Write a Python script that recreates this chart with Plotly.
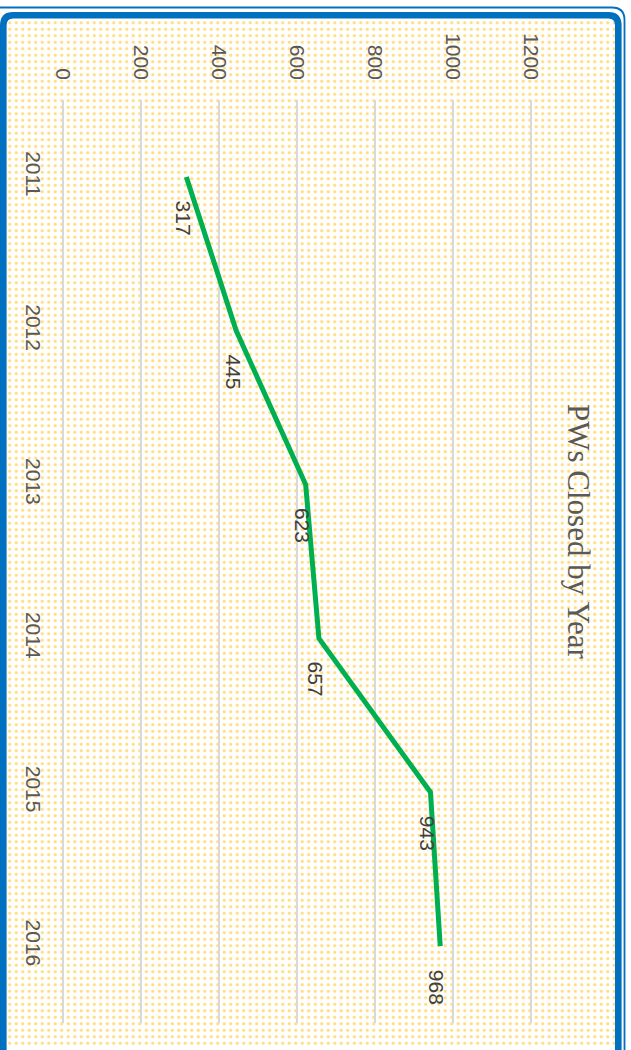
import plotly.graph_objects as go

# ---- data ----
years = ["2011", "2012", "2013", "2014", "2015", "2016"]
closed = [317, 445, 623, 657, 943, 968]
value_ticks = [0, 200, 400, 600, 800, 1000, 1200]
title_text = "PWs Closed by Year"

W, H = 631, 1050

# plot-area placement on the page (pixels)
X_LEFT, X_RIGHT = 54.9, 538.5     # value axis range -20..1220
Y_TOP, Y_BOTTOM = 100, 1023

BLUE = "#0070C0"
GREY_TXT = "#595959"

fig = go.Figure()

# dotted page background inside the frame (page-pixel axes x/y)
fig.add_trace(go.Scatter(
    x=[7, 615, 615, 7, 7], y=[18, 18, 1047, 1047, 18],
    mode="none", fill="toself", fillcolor="white",
    fillpattern=dict(shape=".", fgcolor="#FFBA00", bgcolor="white",
                     size=6.5, solidity=0.2),
    hoverinfo="skip", showlegend=False, xaxis="x", yaxis="y",
))

# the yearly line (value axis horizontal, years running downward)
fig.add_trace(go.Scatter(
    x=closed, y=years, mode="lines",
    line=dict(color="#00B050", width=5),
    showlegend=False, xaxis="x2", yaxis="y2",
    hoverinfo="skip",
))

# rotated value labels beside each point
annotations = []
for i, v in enumerate(closed):
    annotations.append(dict(
        x=v, y=i, xref="x2", yref="y2", text=str(v), showarrow=False,
        textangle=90, yshift=-41, xshift=-3,
        font=dict(family="Liberation Sans", size=21, color="#404040"),
    ))

# rotated chart title
annotations.append(dict(
    x=579 / W, y=1 - 532 / H, xref="paper", yref="paper",
    text=title_text, showarrow=False, textangle=90,
    xanchor="center", yanchor="middle",
    font=dict(family="Liberation Serif", size=31, color=GREY_TXT),
))

# frame: thick rounded border plus thin outer line
L, R, T, B, r = 3.3, 618.3, 15.2, 1056, 10
thick = (f"M {L + r},{T} L {R - r},{T} Q {R},{T} {R},{T + r} "
         f"L {R},{B} L {L},{B} L {L},{T + r} Q {L},{T} {L + r},{T} Z")
thin = "M -5,7.5 L 612,7.5 Q 624.5,7.5 624.5,20 L 624.5,1060"
shapes = [
    dict(type="path", path=thick, xref="x", yref="y",
         line=dict(color=BLUE, width=6.6)),
    dict(type="path", path=thin, xref="x", yref="y",
         line=dict(color=BLUE, width=1.8)),
]

fig.update_layout(
    width=W, height=H,
    margin=dict(l=0, r=0, t=0, b=0),
    paper_bgcolor="white", plot_bgcolor="rgba(0,0,0,0)",
    showlegend=False,
    xaxis=dict(domain=[0, 1], range=[0, W], visible=False, fixedrange=True),
    yaxis=dict(domain=[0, 1], range=[H, 0], visible=False, fixedrange=True),
    xaxis2=dict(
        domain=[X_LEFT / W, X_RIGHT / W], anchor="y2", side="top",
        range=[-20, 1220], tickvals=value_ticks,
        ticktext=[str(t) for t in value_ticks],
        tickangle=90, showgrid=True, gridcolor="#D9D9D9", gridwidth=1.5,
        zeroline=False, showline=False, ticks="", automargin=False,
        ticklabelstandoff=16,
        tickfont=dict(family="Liberation Sans", size=21, color=GREY_TXT),
    ),
    yaxis2=dict(
        domain=[1 - Y_BOTTOM / H, 1 - Y_TOP / H], anchor="x2",
        type="category", categoryorder="array", categoryarray=years,
        range=[5.5, -0.5], tickangle=90, showgrid=False, zeroline=False,
        showline=False, ticks="", automargin=False,
        ticklabelstandoff=7,
        tickfont=dict(family="Liberation Sans", size=21, color=GREY_TXT),
    ),
    annotations=annotations,
    shapes=shapes,
)

fig.write_html("out.html")
